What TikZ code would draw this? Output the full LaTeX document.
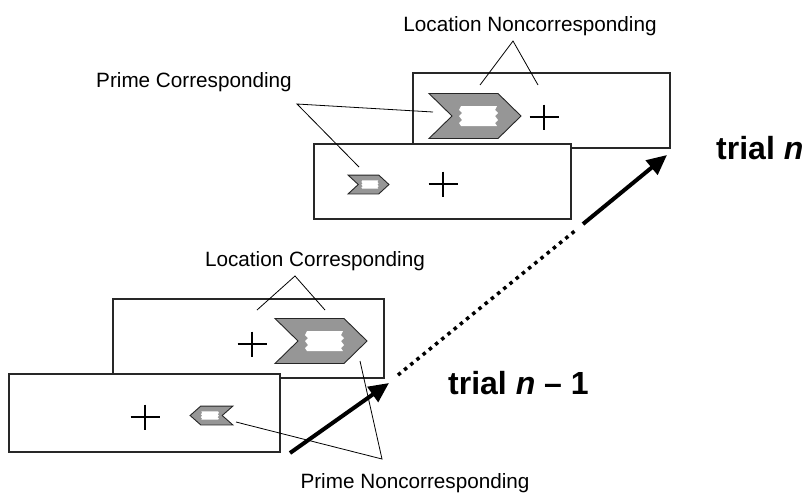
\documentclass[tikz,border=0pt]{standalone}
\usepackage{fontspec}
\setmainfont{Liberation Sans}
\usetikzlibrary{arrows.meta}
\definecolor{chevgray}{RGB}{150,150,150}
\definecolor{framecol}{RGB}{40,40,40}
\tikzset{
  screen/.style={draw=framecol, line width=1.2pt, fill=white},
  callout/.style={draw=black, line width=0.8pt},
  lbl/.style={inner sep=0pt, anchor=base, font=\fontsize{20.7}{24}\selectfont},
  triallbl/.style={inner sep=0pt, anchor=base west, font=\fontsize{32}{38}\selectfont\bfseries},
  bigarrow/.style={line width=4pt, -{Triangle[length=20pt,width=18pt]}},
  dotline/.style={line width=3.5pt, dash pattern=on 3.5pt off 4.5pt},
  chev/.pic={
    \draw[fill=chevgray, draw=black!85, line width=0.9pt, line join=miter]
      (-46,-22.5) -- (23,-22.5) -- (46,0) -- (23,22.5) -- (-46,22.5) -- (-23,0) -- cycle;
    \fill[white] (-14,-10) -- (22,-10) -- (20,-6) -- (23,-3) -- (20,0) -- (23,4) -- (20,7) -- (22,10)
      -- (-14,10) -- (-16,7) -- (-13,4) -- (-16,0) -- (-13,-3) -- (-16,-6) -- cycle;
  },
  fixcross/.pic={
    \draw[line width=2.4pt] (-14.5,0) -- (14.5,0) (0,-12.5) -- (0,12.5);
  }
}
\begin{document}
\begin{tikzpicture}[x=1pt, y=-1pt]
\useasboundingbox (0,0) rectangle (810,496);

% trial n screens
\draw[screen] (413,73) rectangle (670,148);
\pic at (475,116) {chev};
\pic at (544,117) {fixcross};
\draw[screen] (314,144) rectangle (571,219);
\pic[xscale=0.445, yscale=0.42] at (368.5,184.5) {chev};
\pic at (443,184) {fixcross};

% trial n-1 screens
\draw[screen] (113,299) rectangle (384,378);
\pic at (321,341) {chev};
\pic at (252,344) {fixcross};
\draw[screen] (9,374) rectangle (280,452);
\pic[xscale=-0.465, yscale=0.42] at (211.5,415.5) {chev};
\pic at (145,417) {fixcross};

% labels
\node[lbl] (ln) at (530,31) {Location Noncorresponding};
\node[lbl] (pc) at (194,87) {Prime Corresponding};
\node[lbl] (lc) at (315,266) {Location Corresponding};
\node[lbl] (pn) at (415,488) {Prime Noncorresponding};
\node[triallbl] (tn) at (716,159) {trial \textit{n}};
\node[triallbl] (tn1) at (448,394) {trial \textit{n} – 1};

% callout coordinates
\coordinate (lnA) at (513,41);
\coordinate (lnB) at (480,85);
\coordinate (lnC) at (538,85);
\coordinate (pcA) at (297,104);
\coordinate (pcB) at (433,112);
\coordinate (pcC) at (359,167);
\coordinate (lcA) at (295,276);
\coordinate (lcB) at (257,310);
\coordinate (lcC) at (325,310);
\coordinate (pnA) at (382,459);
\coordinate (pnB) at (236,422);
\coordinate (pnC) at (360,361);

\draw[callout] (lnB) -- (lnA) -- (lnC);
\draw[callout] (pcB) -- (pcA) -- (pcC);
\draw[callout] (lcB) -- (lcA) -- (lcC);
\draw[callout] (pnB) -- (pnA) -- (pnC);

% arrows
\coordinate (a0) at (290,453);
\coordinate (a1) at (389,383);
\coordinate (d0) at (398,375);
\coordinate (d1) at (576,230);
\coordinate (b0) at (583,224);
\coordinate (b1) at (667,155);
\draw[bigarrow] (a0) -- (a1);
\draw[dotline] (d0) -- (d1);
\draw[bigarrow] (b0) -- (b1);
\end{tikzpicture}
\end{document}
